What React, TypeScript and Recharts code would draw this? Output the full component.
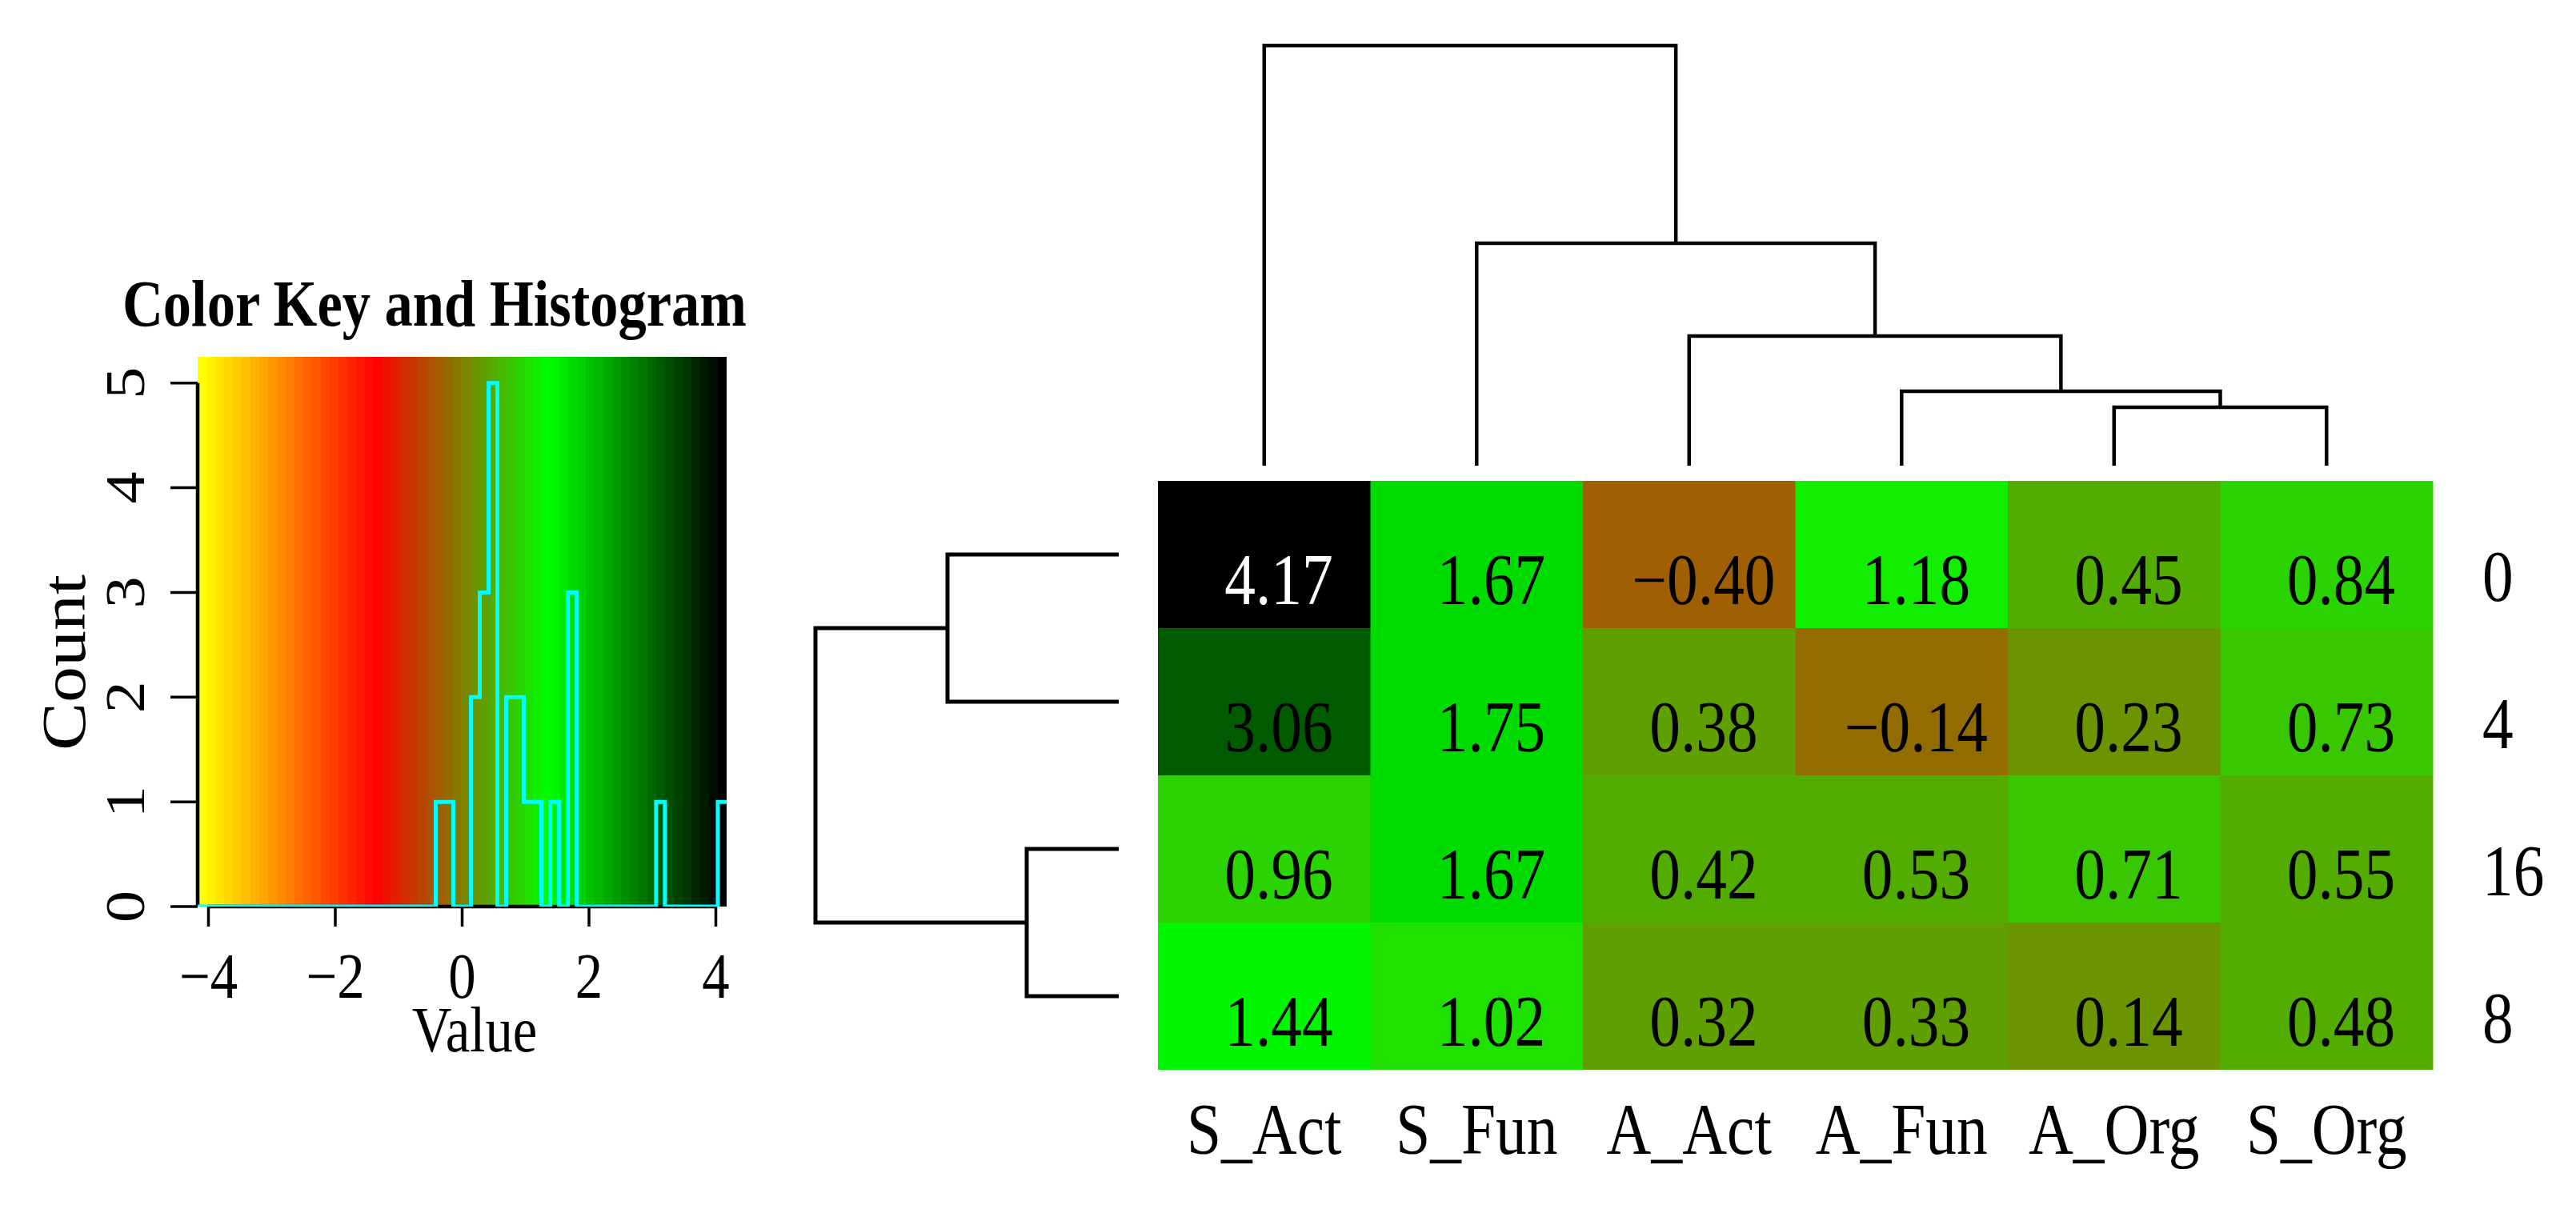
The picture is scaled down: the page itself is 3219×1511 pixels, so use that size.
import React from "react";
import {
  ComposedChart,
  BarChart,
  Bar,
  Cell,
  LabelList,
  Line,
  XAxis,
  YAxis,
  ReferenceArea,
  ReferenceLine,
  ScatterChart,
  Scatter,
} from "recharts";

const FONT = "'Liberation Serif', 'Times New Roman', serif";
const SX = 0.86;

// ---------- heatmap data ----------
const colLabels = ["S_Act", "S_Fun", "A_Act", "A_Fun", "A_Org", "S_Org"];
const rowLabels = ["0", "4", "16", "8"]; // top to bottom
const row0 = [4.17, 1.67, -0.4, 1.18, 0.45, 0.84];
const row4 = [3.06, 1.75, 0.38, -0.14, 0.23, 0.73];
const row16 = [0.96, 1.67, 0.42, 0.53, 0.71, 0.55];
const row8 = [1.44, 1.02, 0.32, 0.33, 0.14, 0.48];
const rowValues = [row0, row4, row16, row8];

// ---------- colour key ----------
const keyMin = -4.17;
const keyMax = 4.17;
const keyBins = 60;
const keyAnchors = ["#FFFF00", "#FF0000", "#00FF00", "#000000"];

// ---------- histogram ----------
const histEdges = [-4.17, -0.417, -0.139, 0.139, 0.278, 0.417, 0.556, 0.695, 0.973, 1.251, 1.39, 1.529, 1.668, 1.807, 3.058, 3.197, 4.031, 4.17];
const histCounts = [0, 1, 0, 2, 3, 5, 0, 2, 1, 0, 1, 0, 3, 0, 1, 0, 1];
const countTicks = [0, 1, 2, 3, 4, 5];
const valueTicks = [-4, -2, 0, 2, 4];
const countMax = 5.25;

// ---------- dendrograms ----------
// column tree: children ("L<i>" = leaf column i, "M<k>" = merge k) and merge heights
const colMergeA = ["L4", "L3", "L2", "L1", "L0"];
const colMergeB = ["L5", "M0", "M1", "M2", "M3"];
const colMergeH = [0.73, 0.93, 1.62, 2.78, 5.25];
// row tree: leaves are rows top to bottom
const rowMergeA = ["L0", "L2", "M0"];
const rowMergeB = ["L1", "L3", "M1"];
const rowMergeH = [2.14, 1.15, 3.79];

// ---------- helpers ----------
const hexToRgb = (h: string) => [parseInt(h.slice(1, 3), 16), parseInt(h.slice(3, 5), 16), parseInt(h.slice(5, 7), 16)];
const ramp = (t: number) => {
  const segs = keyAnchors.length - 1;
  const s = Math.min(segs - 1, Math.floor(t * segs));
  const lt = t * segs - s;
  const a = hexToRgb(keyAnchors[s]);
  const b = hexToRgb(keyAnchors[s + 1]);
  const c = a.map((v, i) => Math.round(v + (b[i] - v) * lt));
  return { rgb: c, css: `rgb(${c[0]},${c[1]},${c[2]})` };
};
const palette = Array.from({ length: keyBins }, (_, i) => ramp(i / (keyBins - 1)));
const binOf = (v: number) => {
  const w = (keyMax - keyMin) / keyBins;
  return Math.max(0, Math.min(keyBins - 1, Math.floor((v - keyMin) / w + 1e-9)));
};
const colorFor = (v: number) => palette[binOf(v)].css;
const textColorFor = (v: number) => {
  const c = palette[binOf(v)].rgb;
  const lum = (0.2126 * c[0] + 0.7152 * c[1] + 0.0722 * c[2]) / 255;
  return lum < 0.15 ? "#FFFFFF" : "#000000";
};
const fmtNum = (v: number, d: number) => (v < 0 ? "\u2212" + Math.abs(v).toFixed(d) : v.toFixed(d));

function buildLinks(A: string[], B: string[], H: number[], leafPos: (i: number) => number, swap: boolean) {
  const pos: number[] = [];
  const hgt: number[] = [];
  const get = (ref: string) => {
    const k = parseInt(ref.slice(1), 10);
    return ref[0] === "L" ? { p: leafPos(k), h: 0 } : { p: pos[k], h: hgt[k] };
  };
  const links: { x: number; y: number }[][] = [];
  for (let m = 0; m < A.length; m++) {
    const a = get(A[m]);
    const b = get(B[m]);
    const h = H[m];
    pos[m] = (a.p + b.p) / 2;
    hgt[m] = h;
    const pts = [
      [a.p, a.h],
      [a.p, h],
      [b.p, h],
      [b.p, b.h],
    ];
    links.push(pts.map(([p, hh]) => (swap ? { x: hh, y: p } : { x: p, y: hh })));
  }
  return links;
}

const colLinks = buildLinks(colMergeA, colMergeB, colMergeH, (i) => i + 0.5, false);
const rowLinks = buildLinks(rowMergeA, rowMergeB, rowMergeH, (i) => rowLabels.length - i - 0.5, true);

const histData = histEdges.map((e, i) => ({ x: e, c: i < histCounts.length ? histCounts[i] : histCounts[histCounts.length - 1] }));

const heatData = colLabels.map((c, j) => {
  const d: any = { col: c };
  rowValues.forEach((r, i) => {
    d[`u${i}`] = 1;
    d[`v${i}`] = r[j];
  });
  return d;
});

// ---------- tick / label renderers ----------
const XTickHist = (p: any) => (
  <text transform={`translate(${p.x},${p.y + 89}) scale(${SX},1)`} textAnchor="middle" fontFamily={FONT} fontSize={80} fill="#000">
    {fmtNum(p.payload.value, 0)}
  </text>
);
const YTickHist = (p: any) => (
  <text transform={`translate(${p.x - 33},${p.y}) scale(${SX},1) rotate(-90)`} textAnchor="middle" fontFamily={FONT} fontSize={80} fill="#000">
    {p.payload.value}
  </text>
);
const XTickHeat = (p: any) => (
  <text transform={`translate(${p.x},${p.y + 105}) scale(${SX},1)`} textAnchor="middle" fontFamily={FONT} fontSize={90} fill="#000">
    {p.payload.value}
  </text>
);
const YTickHeat = (p: any) => {
  const idx = Math.round(rowLabels.length - 0.5 - p.payload.value);
  return (
    <text transform={`translate(${p.x + 62},${p.y + 58}) scale(${SX},1)`} textAnchor="start" fontFamily={FONT} fontSize={90} fill="#000">
      {rowLabels[idx]}
    </text>
  );
};
const CellLabel = (p: any) => {
  const vb = p.viewBox && p.viewBox.width !== undefined ? p.viewBox : p;
  const x = Number(vb.x);
  const y = Number(vb.y);
  const w = Number(vb.width);
  const h = Number(vb.height);
  const top = Math.min(y, y + h);
  const v = Number(p.value);
  const cx = x + w / 2 + 18;
  const by = top + Math.abs(h) / 2 + 62;
  return (
    <text transform={`translate(${cx},${by}) scale(${SX},1)`} textAnchor="middle" fontFamily={FONT} fontSize={90} fill={textColorFor(v)}>
      {fmtNum(v, 2)}
    </text>
  );
};
const NoShape = () => <g />;

export default function App() {
  const stops: React.ReactElement[] = [];
  palette.forEach((c, i) => {
    stops.push(<stop key={`a${i}`} offset={i / keyBins} stopColor={c.css} />);
    stops.push(<stop key={`b${i}`} offset={(i + 1) / keyBins} stopColor={c.css} />);
  });
  const rowOrderBottomUp = rowValues.map((_, i) => i).reverse();

  return (
    <div style={{ position: "absolute", left: 0, top: 0, width: 3219, height: 1511, background: "#fff", overflow: "hidden", fontFamily: FONT }}>
      {/* colour key + histogram */}
      <div style={{ position: "absolute", left: 0, top: 0 }}>
        <ComposedChart width={1000} height={1400} data={histData} margin={{ top: 446, right: 92, bottom: 117, left: 127 }}>
          <defs>
            <linearGradient id="keyGrad" x1="0" y1="0" x2="1" y2="0">
              {stops}
            </linearGradient>
          </defs>
          <XAxis
            type="number"
            dataKey="x"
            domain={[keyMin, keyMax]}
            ticks={valueTicks}
            allowDataOverflow
            interval={0}
            height={150}
            tickSize={25}
            tickMargin={0}
            tickLine={{ stroke: "#000", strokeWidth: 3.5 }}
            axisLine={false}
            tick={XTickHist}
          />
          <YAxis
            type="number"
            domain={[0, countMax]}
            ticks={countTicks}
            allowDataOverflow
            interval={0}
            width={120}
            tickSize={34}
            tickMargin={0}
            tickLine={{ stroke: "#000", strokeWidth: 3.5 }}
            axisLine={false}
            tick={YTickHist}
          />
          <ReferenceArea x1={keyMin} x2={keyMax} y1={0} y2={countMax} fill="url(#keyGrad)" fillOpacity={1} stroke="none" />
          <ReferenceLine segment={[{ x: keyMin, y: 0 }, { x: keyMin, y: 5 }]} stroke="#000" strokeWidth={4.5} />
          <ReferenceLine segment={[{ x: -4, y: 0 }, { x: 4, y: 0 }]} stroke="#000" strokeWidth={4.5} />
          <Line type="stepAfter" dataKey="c" stroke="#00FFFF" strokeWidth={5} dot={false} activeDot={false} isAnimationActive={false} />
          <text transform={`translate(543,407) scale(${SX},1)`} textAnchor="middle" fontFamily={FONT} fontWeight="bold" fontSize={82} fill="#000">
            Color Key and Histogram
          </text>
          <text transform={`translate(106,828) scale(${SX},1) rotate(-90)`} textAnchor="middle" fontFamily={FONT} fontSize={90} fill="#000">
            Count
          </text>
          <text transform={`translate(593,1314) scale(${SX},1)`} textAnchor="middle" fontFamily={FONT} fontSize={80} fill="#000">
            Value
          </text>
        </ComposedChart>
      </div>

      {/* column dendrogram */}
      <div style={{ position: "absolute", left: 0, top: 0 }}>
        <ScatterChart width={3219} height={620} margin={{ top: 32, right: 179, bottom: 38, left: 1447 }}>
          <XAxis type="number" dataKey="x" domain={[0, colLabels.length]} hide />
          <YAxis type="number" dataKey="y" domain={[0, 5.5]} hide />
          {colLinks.map((pts, i) => (
            <Scatter key={i} data={pts} fill="#000" line={{ stroke: "#000", strokeWidth: 4.5 }} lineType="joint" shape={NoShape} isAnimationActive={false} />
          ))}
        </ScatterChart>
      </div>

      {/* row dendrogram */}
      <div style={{ position: "absolute", left: 0, top: 0 }}>
        <ScatterChart width={1447} height={1511} margin={{ top: 601, right: 49, bottom: 174, left: 998 }}>
          <XAxis type="number" dataKey="x" domain={[0, 4]} reversed hide />
          <YAxis type="number" dataKey="y" domain={[0, rowLabels.length]} hide />
          {rowLinks.map((pts, i) => (
            <Scatter key={i} data={pts} fill="#000" line={{ stroke: "#000", strokeWidth: 5 }} lineType="joint" shape={NoShape} isAnimationActive={false} />
          ))}
        </ScatterChart>
      </div>

      {/* heatmap */}
      <div style={{ position: "absolute", left: 0, top: 0 }}>
        <BarChart width={3219} height={1511} data={heatData} margin={{ top: 601, right: 29, bottom: 24, left: 1447 }} barCategoryGap={0} barGap={0}>
          <XAxis dataKey="col" type="category" height={150} tickSize={0} tickMargin={0} tickLine={false} axisLine={false} interval={0} tick={XTickHeat} />
          <YAxis
            orientation="right"
            type="number"
            domain={[0, rowLabels.length]}
            ticks={[0.5, 1.5, 2.5, 3.5]}
            width={150}
            tickSize={0}
            tickMargin={0}
            tickLine={false}
            axisLine={false}
            interval={0}
            tick={YTickHeat}
          />
          {rowOrderBottomUp.map((ri) => (
            <Bar key={ri} dataKey={`u${ri}`} stackId="h" isAnimationActive={false}>
              {heatData.map((_, j) => (
                <Cell key={j} fill={colorFor(rowValues[ri][j])} stroke="none" />
              ))}
              <LabelList dataKey={`v${ri}`} content={CellLabel} />
            </Bar>
          ))}
        </BarChart>
      </div>
    </div>
  );
}
